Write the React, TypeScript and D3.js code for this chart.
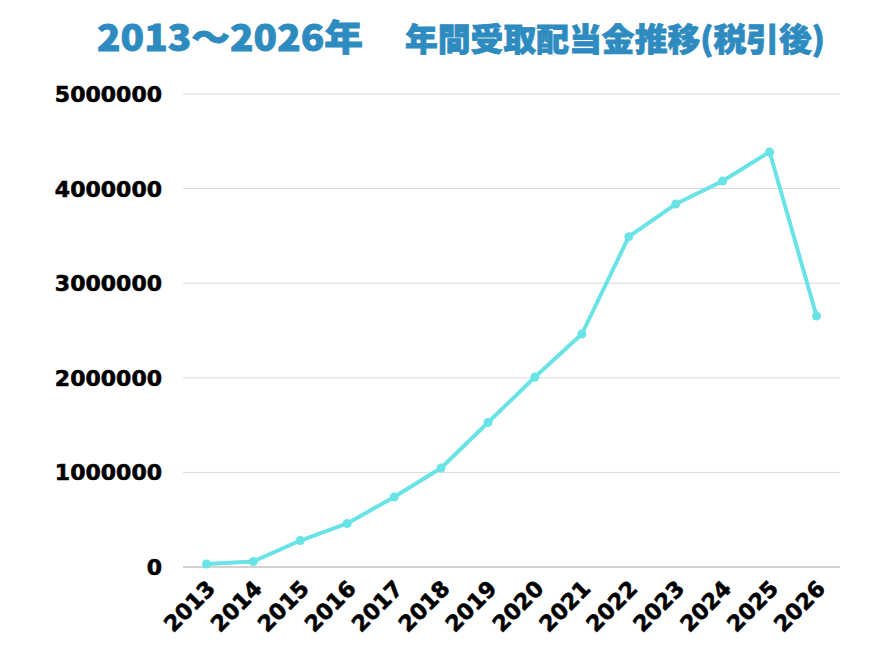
import { useRef, useEffect } from 'react';
import * as d3 from 'd3';

const WIDTH = 896;
const HEIGHT = 672;
const MARGIN = { top: 94, right: 56, bottom: 105, left: 183 };

// Values (yen, after tax).
const YEARS = ['2013', '2014', '2015', '2016', '2017', '2018', '2019', '2020', '2021', '2022', '2023', '2024', '2025', '2026'];
const DIVIDENDS = [32000, 58000, 280000, 460000, 740000, 1046000, 1527000, 2008000, 2463000, 3492000, 3837000, 4080000, 4387000, 2653000];
const Y_TICKS = [0, 1000000, 2000000, 3000000, 4000000, 5000000];

const TITLE_LEFT = '2013～2026年';
const TITLE_RIGHT = '年間受取配当金推移(税引後)';

const LINE_COLOR = '#6ae3e7';
const TITLE_COLOR = '#2e8bc0';
const GRID_COLOR = '#d9d9d9';
const LABEL_FONT = '"DejaVu Sans", sans-serif';
const TITLE_FONT = '"Noto Sans CJK JP", sans-serif';

export default function App() {
  const svgRef = useRef<SVGSVGElement>(null);

  useEffect(() => {
    if (!svgRef.current) return;
    const innerWidth = WIDTH - MARGIN.left - MARGIN.right;
    const innerHeight = HEIGHT - MARGIN.top - MARGIN.bottom;

    const x = d3.scaleBand<string>().domain(YEARS).range([0, innerWidth]);
    const y = d3.scaleLinear().domain([0, 5000000]).range([innerHeight, 0]);
    const cx = (d: string) => (x(d) ?? 0) + x.bandwidth() / 2;

    const svg = d3.select(svgRef.current);
    svg.selectAll('*').remove();

    svg.append('rect').attr('width', WIDTH).attr('height', HEIGHT).attr('fill', '#fff');

    // ── Title ───────────────────────────────────────────────────────────
    const title = svg.append('g')
      .attr('fill', TITLE_COLOR)
      .attr('stroke', TITLE_COLOR)
      .attr('stroke-width', 0.8)
      .attr('font-family', TITLE_FONT)
      .attr('font-weight', 900)
      .attr('font-size', 32);
    title.append('text')
      .attr('x', 97).attr('y', 51)
      .attr('textLength', 266)
      .attr('lengthAdjust', 'spacingAndGlyphs')
      .attr('font-size', 36)
      .text(TITLE_LEFT);
    title.append('text')
      .attr('x', 405).attr('y', 51)
      .attr('textLength', 420)
      .attr('lengthAdjust', 'spacingAndGlyphs')
      .text(TITLE_RIGHT);

    const g = svg.append('g').attr('transform', `translate(${MARGIN.left},${MARGIN.top})`);

    // ── Grid + y labels ─────────────────────────────────────────────────
    g.append('g')
      .selectAll('line')
      .data(Y_TICKS)
      .join('line')
      .attr('x1', 0)
      .attr('x2', innerWidth)
      .attr('y1', (d) => y(d))
      .attr('y2', (d) => y(d))
      .attr('stroke', (d) => (d === 0 ? '#a6a6a6' : GRID_COLOR))
      .attr('stroke-width', 1);

    g.append('g')
      .selectAll('text')
      .data(Y_TICKS)
      .join('text')
      .attr('x', -21)
      .attr('y', (d) => y(d))
      .attr('dy', '0.36em')
      .attr('text-anchor', 'end')
      .attr('font-family', LABEL_FONT)
      .attr('font-weight', 'bold')
      .attr('font-size', 22)
      .attr('fill', '#000')
      .attr('stroke', '#000')
      .attr('stroke-width', 0.6)
      .text((d) => String(d));

    // ── X labels (rotated) ──────────────────────────────────────────────
    g.append('g')
      .selectAll('text')
      .data(YEARS)
      .join('text')
      .attr('transform', (d) => `translate(${cx(d) + 10},${innerHeight + 23}) rotate(-45)`)
      .attr('text-anchor', 'end')
      .attr('font-family', LABEL_FONT)
      .attr('font-weight', 'bold')
      .attr('font-size', 22)
      .attr('fill', '#000')
      .attr('stroke', '#000')
      .attr('stroke-width', 0.6)
      .text((d) => d);

    // ── Line + points ───────────────────────────────────────────────────
    const line = d3.line<number>()
      .x((_, i) => cx(YEARS[i]))
      .y((d) => y(d));

    g.append('path')
      .datum(DIVIDENDS)
      .attr('fill', 'none')
      .attr('stroke', LINE_COLOR)
      .attr('stroke-width', 4)
      .attr('stroke-linejoin', 'round')
      .attr('stroke-linecap', 'round')
      .attr('d', line);

    g.append('g')
      .selectAll('circle')
      .data(DIVIDENDS)
      .join('circle')
      .attr('cx', (_, i) => cx(YEARS[i]))
      .attr('cy', (d) => y(d))
      .attr('r', 4.5)
      .attr('fill', LINE_COLOR);
  }, []);

  return (
    <div style={{ position: 'fixed', top: 0, left: 0 }}>
      <svg ref={svgRef} width={WIDTH} height={HEIGHT} style={{ display: 'block' }} />
    </div>
  );
}
